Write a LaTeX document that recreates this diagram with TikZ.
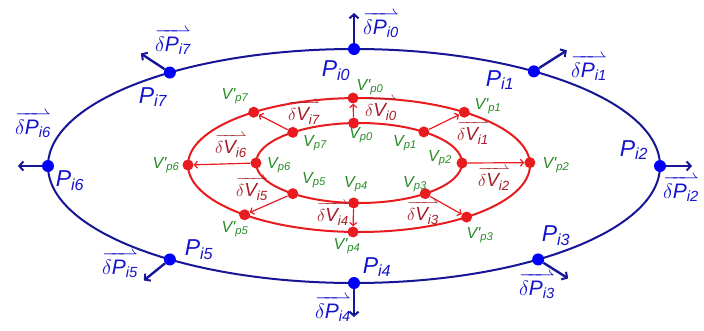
\documentclass[tikz,border=0pt]{standalone}
\usepackage{amsmath}
\usepackage{fontspec}
\setmainfont{Liberation Sans}
\usetikzlibrary{calc,arrows.meta}
\makeatletter
\newcommand\rhfill@{\arrowfill@\relbar\relbar\rightharpoonup}
\newcommand\ovh{\mathpalette{\overarrow@\rhfill@}}
\makeatother
\definecolor{navy}{RGB}{22,22,150}
\definecolor{bdotc}{RGB}{0,0,250}
\definecolor{btext}{RGB}{20,20,205}
\definecolor{rline}{RGB}{232,28,30}
\definecolor{gtext}{RGB}{40,140,40}
\definecolor{dred}{RGB}{165,30,40}
\newcommand\Plab[1]{\textit{P\textsubscript{i#1}}}
\newcommand\dPlab[1]{$\ovh{\delta\mbox{\itshape P\textsubscript{i#1}}}$}
\newcommand\dVlab[1]{$\ovh{\delta\mbox{\itshape V\textsubscript{i#1}}}$}
\newcommand\Vlab[1]{\textit{V\textsubscript{p#1}}}
\newcommand\Vqlab[1]{\textit{V\textquotesingle\textsubscript{p#1}}}
\begin{document}
\begin{tikzpicture}[x=1pt,y=-1pt,
  bdot/.style={circle,fill=bdotc,inner sep=0pt,minimum size=12pt},
  rdot/.style={circle,fill=rline,inner sep=0pt,minimum size=11pt},
  barrow/.style={draw=navy,line width=2.4pt,-{Straight Barb[length=4pt,width=9pt,line width=2pt]}},
  rarrow/.style={draw=rline,line width=1.2pt,-{Straight Barb[length=3pt,width=7pt,line width=1.2pt]}},
  plab/.style={text=btext,font=\fontsize{23}{23}\selectfont,inner sep=0pt},
  dplab/.style={text=btext,font=\fontsize{21}{21}\selectfont,inner sep=0pt},
  vlab/.style={text=gtext,font=\fontsize{16}{16}\selectfont,inner sep=0pt},
  dvlab/.style={text=dred,font=\fontsize{19}{19}\selectfont,inner sep=0pt}]
\useasboundingbox[fill=white] (0,0) rectangle (704,330);
\coordinate (CB) at (354,166);
\coordinate (CO) at (359,165);
\coordinate (CI) at (359,163);
% ellipses
\draw[navy,line width=2pt] (CB) ellipse [x radius=306, y radius=117];
\draw[rline,line width=2pt] (CO) ellipse [x radius=171, y radius=67];
\draw[rline,line width=2pt] (CI) ellipse [x radius=103, y radius=40];
% blue points
\node[bdot] (Pi0) at ($(CB)+(-90:306 and 117)$) {};
\node[bdot] (Pi1) at ($(CB)+(-54:306 and 117)$) {};
\node[bdot] (Pi2) at ($(CB)+(0:306 and 117)$) {};
\node[bdot] (Pi3) at ($(CB)+(53:306 and 117)$) {};
\node[bdot] (Pi4) at ($(CB)+(90:306 and 117)$) {};
\node[bdot] (Pi5) at ($(CB)+(127:306 and 117)$) {};
\node[bdot] (Pi6) at ($(CB)+(180:306 and 117)$) {};
\node[bdot] (Pi7) at ($(CB)+(233:306 and 117)$) {};
% blue arrows
\coordinate (aPi0) at ($(Pi0)+(0,-36)$);
\coordinate (aPi1) at ($(Pi1)+(33,-21)$);
\coordinate (aPi2) at ($(Pi2)+(32,0)$);
\coordinate (aPi3) at ($(Pi3)+(30,19)$);
\coordinate (aPi4) at ($(Pi4)+(0,34)$);
\coordinate (aPi5) at ($(Pi5)+(-26,21)$);
\coordinate (aPi6) at ($(Pi6)+(-30,0)$);
\coordinate (aPi7) at ($(Pi7)+(-29,-19)$);
\foreach \k in {0,...,7} {\draw[barrow] (Pi\k) -- (aPi\k);}
% red points
\node[rdot] (Vq0) at ($(CO)+(-92:171 and 67)$) {};
\node[rdot] (Vq1) at ($(CO)+(-52:171 and 67)$) {};
\node[rdot] (Vq2) at ($(CO)+(-2:171 and 67)$) {};
\node[rdot] (Vq3) at ($(CO)+(51:171 and 67)$) {};
\node[rdot] (Vq4) at ($(CO)+(92:171 and 67)$) {};
\node[rdot] (Vq5) at ($(CO)+(132:171 and 67)$) {};
\node[rdot] (Vq6) at ($(CO)+(180:171 and 67)$) {};
\node[rdot] (Vq7) at ($(CO)+(232:171 and 67)$) {};
\node[rdot] (Vp0) at ($(CI)+(-93:103 and 40)$) {};
\node[rdot] (Vp1) at ($(CI)+(-51:103 and 40)$) {};
\node[rdot] (Vp2) at ($(CI)+(0:103 and 40)$) {};
\node[rdot] (Vp3) at ($(CI)+(50:103 and 40)$) {};
\node[rdot] (Vp4) at ($(CI)+(93:103 and 40)$) {};
\node[rdot] (Vp5) at ($(CI)+(130:103 and 40)$) {};
\node[rdot] (Vp6) at ($(CI)+(180:103 and 40)$) {};
\node[rdot] (Vp7) at ($(CI)+(230:103 and 40)$) {};
\foreach \k in {0,...,7} {\draw[rarrow] (Vp\k) -- (Vq\k);}
% P labels
\node[plab] (lPi0) at (336,71) {\Plab{0}};
\node[plab] (lPi1) at (500,80) {\Plab{1}};
\node[plab] (lPi2) at (634,150) {\Plab{2}};
\node[plab] (lPi3) at (556,236) {\Plab{3}};
\node[plab] (lPi4) at (377,267) {\Plab{4}};
\node[plab] (lPi5) at (199,250) {\Plab{5}};
\node[plab] (lPi6) at (70,181) {\Plab{6}};
\node[plab] (lPi7) at (153,97) {\Plab{7}};
% delta P labels
\node[dplab] (dPi0) at (381,25) {\dPlab{0}};
\node[dplab] (dPi1) at (589,68) {\dPlab{1}};
\node[dplab] (dPi2) at (681,189) {\dPlab{2}};
\node[dplab] (dPi3) at (537,286) {\dPlab{3}};
\node[dplab] (dPi4) at (333,309) {\dPlab{4}};
\node[dplab] (dPi5) at (120,265) {\dPlab{5}};
\node[dplab] (dPi6) at (33,125) {\dPlab{6}};
\node[dplab] (dPi7) at (173,42) {\dPlab{7}};
% V labels
\node[vlab] (lVq0) at (370,87) {\Vqlab{0}};
\node[vlab] (lVp0) at (361,135) {\Vlab{0}};
\node[vlab] (lVq1) at (488,106) {\Vqlab{1}};
\node[vlab] (lVp1) at (405,143) {\Vlab{1}};
\node[vlab] (lVp2) at (440,158) {\Vlab{2}};
\node[vlab] (lVq2) at (556,165) {\Vqlab{2}};
\node[vlab] (lVp3) at (415,184) {\Vlab{3}};
\node[vlab] (lVq3) at (480,235) {\Vqlab{3}};
\node[vlab] (lVp4) at (356,184) {\Vlab{4}};
\node[vlab] (lVq4) at (347,246) {\Vqlab{4}};
\node[vlab] (lVp5) at (314,180) {\Vlab{5}};
\node[vlab] (lVq5) at (235,229) {\Vqlab{5}};
\node[vlab] (lVp6) at (279,165) {\Vlab{6}};
\node[vlab] (lVq6) at (166,165) {\Vqlab{6}};
\node[vlab] (lVp7) at (315,143) {\Vlab{7}};
\node[vlab] (lVq7) at (235,96) {\Vqlab{7}};
% delta V labels
\node[dvlab] (dVi0) at (381,109) {\dVlab{0}};
\node[dvlab] (dVi1) at (473,133) {\dVlab{1}};
\node[dvlab] (dVi2) at (494,179) {\dVlab{2}};
\node[dvlab] (dVi3) at (423,213) {\dVlab{3}};
\node[dvlab] (dVi4) at (333,214) {\dVlab{4}};
\node[dvlab] (dVi5) at (252,189) {\dVlab{5}};
\node[dvlab] (dVi6) at (231,146) {\dVlab{6}};
\node[dvlab] (dVi7) at (304,113) {\dVlab{7}};
\end{tikzpicture}
\end{document}
